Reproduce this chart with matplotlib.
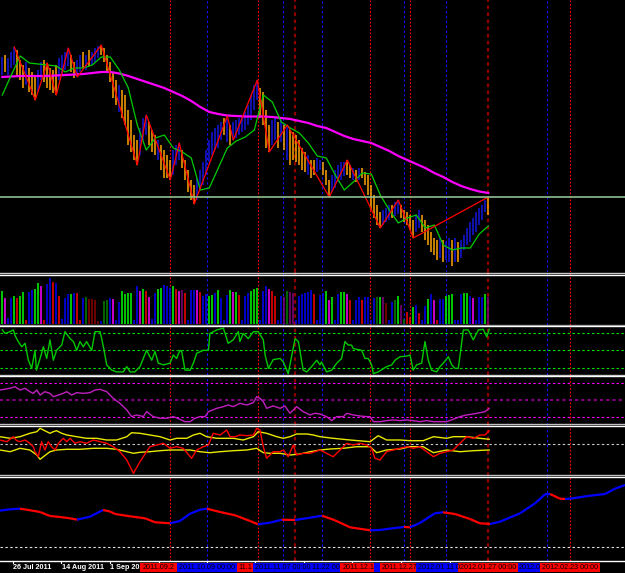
import numpy as np
import matplotlib.pyplot as plt
from matplotlib.collections import LineCollection
from matplotlib.patches import Rectangle

plt.rcParams["font.family"] = ["Liberation Sans", "DejaVu Sans"]

# ---------------------------------------------------
# Price bars (EURUSD daily, Jul 2011 - Jan 2012)
# ---------------------------------------------------
highs = [1.443, 1.445, 1.442, 1.448, 1.453, 1.450, 1.440, 1.435, 1.438, 1.432, 1.428, 1.425,
         1.430, 1.438, 1.440, 1.437, 1.432, 1.430, 1.435, 1.442, 1.445, 1.448, 1.452,
         1.445, 1.438, 1.440, 1.445, 1.448, 1.445, 1.450, 1.448, 1.452, 1.454, 1.455,
         1.452, 1.445, 1.438, 1.428, 1.420, 1.415, 1.410, 1.405, 1.390, 1.380, 1.365, 1.360,
         1.372, 1.382, 1.385, 1.378, 1.370, 1.365, 1.360, 1.355, 1.350, 1.345, 1.340,
         1.350, 1.355, 1.357, 1.350, 1.340, 1.330, 1.320, 1.315,
         1.322, 1.330, 1.338, 1.350, 1.360, 1.368, 1.372, 1.375, 1.378, 1.382, 1.384,
         1.375, 1.378, 1.380, 1.382, 1.385, 1.388, 1.395, 1.405, 1.415, 1.420,
         1.412, 1.408, 1.390, 1.375, 1.380, 1.382, 1.378, 1.380, 1.375, 1.375,
         1.370, 1.368, 1.365, 1.360, 1.352, 1.348, 1.345, 1.340, 1.340, 1.342, 1.340, 1.338,
         1.330, 1.320, 1.325, 1.330, 1.335, 1.338, 1.338, 1.340, 1.335, 1.332, 1.330, 1.332, 1.332, 1.328,
         1.325, 1.315, 1.305, 1.295, 1.288, 1.290, 1.292, 1.295, 1.295, 1.298, 1.300,
         1.295, 1.290, 1.288, 1.285, 1.280, 1.285, 1.290, 1.285,
         1.280, 1.275, 1.268, 1.262, 1.260, 1.262, 1.260, 1.258, 1.262, 1.260, 1.262, 1.258, 1.260,
         1.265, 1.272, 1.278, 1.282, 1.288, 1.292, 1.295, 1.300, 1.303]
lows = [1.425, 1.428, 1.425, 1.432, 1.435, 1.425, 1.420, 1.412, 1.415, 1.408, 1.405, 1.400,
        1.408, 1.420, 1.418, 1.412, 1.410, 1.407, 1.405, 1.420, 1.425, 1.430, 1.434,
        1.428, 1.422, 1.423, 1.428, 1.432, 1.430, 1.434, 1.435, 1.438, 1.442, 1.445,
        1.438, 1.428, 1.418, 1.402, 1.395, 1.388, 1.382, 1.375, 1.355, 1.348, 1.340, 1.335,
        1.345, 1.360, 1.365, 1.355, 1.348, 1.345, 1.340, 1.330, 1.322, 1.322, 1.320,
        1.325, 1.335, 1.340, 1.332, 1.320, 1.308, 1.300, 1.296,
        1.300, 1.310, 1.315, 1.325, 1.338, 1.345, 1.350, 1.352, 1.360, 1.365, 1.358,
        1.355, 1.360, 1.362, 1.365, 1.368, 1.370, 1.375, 1.380, 1.390, 1.400,
        1.382, 1.375, 1.352, 1.348, 1.355, 1.360, 1.352, 1.358, 1.350, 1.340,
        1.335, 1.340, 1.338, 1.335, 1.330, 1.328, 1.325, 1.322, 1.325, 1.328, 1.330, 1.325,
        1.315, 1.303, 1.308, 1.312, 1.318, 1.320, 1.324, 1.325, 1.322, 1.320, 1.318, 1.320, 1.322, 1.315,
        1.305, 1.290, 1.282, 1.275, 1.272, 1.275, 1.278, 1.280, 1.282, 1.284, 1.286,
        1.282, 1.278, 1.275, 1.270, 1.262, 1.268, 1.272, 1.268,
        1.260, 1.255, 1.248, 1.245, 1.240, 1.242, 1.238, 1.240, 1.238, 1.234, 1.238, 1.238, 1.242,
        1.250, 1.255, 1.258, 1.265, 1.268, 1.275, 1.280, 1.288, 1.285]
# u = bull bar, d = bear bar
bar_dir = ("uduuuddduddd" "uuddddduuuu" "dduududuuud" "dddddudddddd" "uuudddudddd"
           "uuuddddd" "uuuuuuuuudu" "duuuuuuuuu" "dddduududu" "ddddddudduud"
           "dduuuuuddududd" "ddddduuuduu" "ddddduud" "ddddduduududu" "uuuuuuuud")

# moving averages, one value every 3 bars
ma_fast = [1.405, 1.425, 1.444, 1.437, 1.436, 1.435, 1.434, 1.428, 1.432, 1.432,
           1.435, 1.443, 1.443, 1.430, 1.412, 1.375, 1.350, 1.362, 1.365, 1.352,
           1.348, 1.342, 1.310, 1.312, 1.332, 1.352, 1.359, 1.363, 1.370, 1.405,
           1.398, 1.378, 1.372, 1.367, 1.357, 1.344, 1.342, 1.325, 1.310, 1.318,
           1.327, 1.326, 1.305, 1.290, 1.277, 1.282, 1.285, 1.272, 1.275, 1.255,
           1.250, 1.252, 1.252, 1.266, 1.274]
ma_slow = [1.4230, 1.4235, 1.4240, 1.4240, 1.4240, 1.4240, 1.4245, 1.4250, 1.4255, 1.4260,
           1.4270, 1.4280, 1.4280, 1.4265, 1.4240, 1.4210, 1.4180, 1.4150, 1.4120, 1.4080,
           1.4040, 1.3990, 1.3930, 1.3880, 1.3860, 1.3845, 1.3840, 1.3835, 1.3835, 1.3835,
           1.3830, 1.3820, 1.3810, 1.3790, 1.3770, 1.3740, 1.3720, 1.3680, 1.3640, 1.3610,
           1.3590, 1.3570, 1.3530, 1.3490, 1.3440, 1.3400, 1.3360, 1.3320, 1.3270, 1.3230,
           1.3180, 1.3140, 1.3110, 1.3085, 1.3070]

# zigzag turning bars (H = high, L = low)
zz_bars = [4, 11, 15, 18, 22, 25, 33, 45, 48, 56, 59, 64, 75, 77, 85, 89, 95, 109, 115, 126, 132, 137, 162]
zz_kind = "HLHLHLHLHLHLHLHLHLHLHLH"
level_price = 1.303

# ---------------------------------------------------
# Volume
# ---------------------------------------------------
volume = [3300, 2600, 600, 2600, 2800, 2600, 2800, 3200, 400, 3200,
          3400, 3500, 4100, 3800, 400, 4000, 4600, 4200, 4100, 2800,
          500, 2600, 3000, 3000, 3100, 3100, 400, 2600, 2700, 2500,
          2500, 2400, 300, 300, 2300, 2400, 2600, 2500, 400, 2200,
          3300, 3000, 3100, 3100, 400, 3800, 3300, 3500, 3300, 2700,
          500, 3100, 3500, 3600, 3900, 3800, 3600, 3800, 3500, 3300,
          3400, 3100, 400, 3400, 3400, 3400, 3200, 2800, 3000, 2800,
          2900, 3100, 3400, 2600, 400, 2900, 3400, 3200, 3200, 2900,
          400, 2800, 3100, 3300, 3500, 3600, 400, 3300, 3800, 3500,
          3300, 2800, 400, 2800, 2700, 3300, 3200, 3100, 400, 2800,
          3000, 3100, 3200, 3400, 3000, 400, 2900, 3100, 3300, 2400,
          2700, 400, 3000, 3200, 3200, 3000, 2400, 400, 2400, 2700,
          2400, 2700, 2700, 400, 2600, 2700, 2700, 2700, 2100, 400,
          2200, 2400, 2800, 1900, 500, 1200, 700, 1700, 1900, 1100,
          400, 1800, 2500, 3000, 2400, 400, 2500, 2500, 2800, 2900,
          3000, 400, 400, 3000, 3100, 3100, 2800, 2600, 400, 2700,
          2700, 3000, 2700]
vol_class = ("gmbbgrggrb" "bggmrbbrbr" "bbbgbrrbGR" "RRRbGGbmbb" "ggggbbmgrm"
             "bbggbbbgrm" "prbbbmrbbg" "gbgbbbgmgr" "bbbgggbbbm" "rrbbpGppbb"
             "bbbbrbbbgm" "gbbggmrbbb" "rbbbbGgpRb" "bGgpGrrgbr" "bbgbmrbbgg"
             "gbbbggbmbb" "bgp")

# ---------------------------------------------------
# Oscillators (bar index, value)
# ---------------------------------------------------
stoch_t = [0, 0.9, 2.6, 3.7, 4.2, 5.3, 6.5, 7.6, 8.7, 9.8,
           10.9, 11.4, 12.6, 13.7, 14.8, 15.9, 17.0, 18.1, 19.8, 20.9,
           22.6, 23.7, 24.8, 25.9, 27.0, 28.1, 29.8, 30.9, 32.6, 33.7,
           34.8, 36.5, 38.1, 40.3, 41.5, 42.6, 44.2, 45.9, 47.0, 48.1,
           49.8, 50.9, 52.0, 53.7, 55.9, 57.0, 58.1, 59.2, 59.8, 60.9,
           62.6, 63.7, 64.8, 67.0, 68.7, 69.2, 71.5, 73.7, 75.3, 77.0,
           78.7, 79.2, 80.3, 82.0, 83.7, 85.3, 87.0, 87.6, 88.7, 90.3,
           92.6, 93.7, 95.3, 97.6, 98.7, 100.3, 101.5, 103.1, 104.8, 105.9,
           106.4, 108.1, 109.8, 111.5, 113.1, 114.2, 115.3, 116.4, 117.0, 119.8,
           120.9, 122.0, 123.1, 123.7, 125.3, 128.1, 129.8, 130.9, 132.6, 134.8,
           135.9, 137.0, 138.1, 139.8, 140.9, 142.0, 143.1, 144.8, 145.9, 147.0,
           148.7, 149.8, 150.9, 152.0, 153.7, 155.3, 157.0, 158.7, 160.3, 161.5,
           162.3]
stoch_v = [85, 79, 82, 85, 76, 65, 56, 62, 33, 19,
           50, 16, 36, 56, 36, 68, 33, 50, 59, 82,
           70, 65, 50, 65, 56, 65, 50, 82, 82, 56,
           25, 16, 13, 13, 22, 13, 13, 22, 36, 50,
           33, 48, 28, 25, 28, 42, 36, 50, 48, 16,
           16, 28, 45, 50, 50, 79, 85, 88, 62, 68,
           82, 65, 79, 70, 82, 82, 68, 42, 19, 34,
           36, 30, 10, 70, 65, 16, 13, 22, 33, 25,
           30, 13, 16, 28, 36, 65, 59, 59, 53, 50,
           36, 36, 25, 10, 13, 22, 25, 33, 39, 40,
           42, 16, 25, 28, 65, 33, 16, 13, 22, 28,
           39, 25, 19, 19, 85, 85, 68, 85, 86, 73,
           86]

rsi_t = [-0.8, 2.6, 4.2, 5.9, 7.6, 9.2, 10.3, 11.5, 12.6, 14.2,
         15.9, 17.0, 18.7, 20.3, 21.5, 23.1, 24.8, 27.0, 29.2, 30.9,
         32.6, 34.8, 37.0, 39.2, 41.5, 43.1, 44.8, 47.0, 48.1, 50.3,
         52.6, 54.8, 57.0, 59.2, 60.9, 62.6, 64.2, 65.9, 67.6, 68.7,
         71.5, 73.7, 75.3, 77.0, 79.2, 81.5, 83.7, 84.8, 85.9, 87.0,
         88.1, 90.3, 92.6, 94.2, 95.9, 98.1, 100.3, 102.6, 104.2, 105.9,
         108.1, 109.8, 111.5, 113.7, 114.8, 117.0, 119.2, 121.5, 122.6, 123.7,
         125.9, 128.1, 130.3, 132.6, 134.8, 137.0, 139.2, 141.5, 143.7, 145.9,
         148.1, 150.3, 152.6, 154.8, 157.0, 159.2, 160.9, 162.3]
rsi_v = [61.4, 63.4, 65.2, 61.4, 63.4, 59.5, 57.6, 61.4, 55.7, 59.5,
         57.6, 53.8, 55.7, 57.6, 59.5, 55.7, 58.4, 57.6, 58.4, 61.4,
         62.2, 59.5, 51.9, 46.2, 38.6, 31.0, 32.9, 31.0, 36.7, 31.0,
         29.1, 29.1, 31.0, 27.9, 25.2, 25.2, 29.1, 31.0, 31.0, 36.7,
         40.5, 42.4, 44.3, 42.4, 46.2, 44.3, 47.0, 53.8, 51.9, 48.1,
         40.5, 43.2, 40.5, 43.2, 34.8, 42.4, 36.7, 32.9, 34.8, 34.0,
         31.0, 26.4, 31.0, 31.0, 34.8, 32.9, 31.7, 31.0, 31.0, 25.2,
         25.2, 26.4, 27.2, 26.4, 27.2, 26.4, 25.2, 26.4, 25.2, 25.2,
         25.2, 27.9, 31.0, 32.9, 34.0, 35.5, 36.7, 40.5]

band_up_t = [-0.8, 2.6, 5.9, 9.2, 11.5, 12.6, 13.7, 15.9, 17.0, 18.1,
             19.8, 21.5, 24.8, 28.1, 31.4, 34.8, 38.1, 41.5, 43.1, 45.9,
             49.2, 52.6, 55.9, 58.1, 61.5, 63.7, 65.9, 68.1, 71.5, 77.0,
             80.3, 83.7, 85.3, 88.1, 91.5, 93.7, 95.9, 98.1, 101.5, 103.7,
             105.9, 110.3, 115.9, 122.6, 125.3, 128.1, 132.6, 135.9, 140.3, 143.7,
             148.1, 150.3, 154.8, 159.2, 162.3]
band_up_v = [7.3, 5.7, 7.3, 10.7, 12.3, 15.7, 14.0, 10.7, 12.3, 13.3,
             10.7, 9.0, 7.3, 5.7, 5.7, 4.0, 4.0, 7.3, 11.3, 10.7,
             9.0, 7.3, 4.0, 5.7, 5.7, 9.0, 10.7, 7.3, 5.7, 5.7,
             4.0, 7.3, 12.3, 10.7, 7.3, 5.7, 7.3, 10.0, 10.0, 9.0,
             7.3, 5.7, 4.0, 2.3, 8.3, 4.0, 4.0, 3.3, 3.3, 7.3,
             5.7, 7.3, 7.3, 5.7, 4.7]
band_lo_t = [-0.8, 2.6, 5.9, 9.2, 11.5, 12.6, 13.7, 15.9, 18.1, 21.5,
             25.9, 30.3, 34.8, 38.1, 41.5, 43.7, 45.9, 49.2, 52.6, 55.9,
             59.2, 62.6, 65.9, 69.2, 72.6, 77.0, 81.5, 84.8, 87.0, 89.2,
             92.6, 95.9, 99.2, 102.6, 105.9, 109.2, 113.7, 118.1, 122.6, 124.8,
             128.1, 132.6, 135.9, 140.3, 143.7, 148.1, 152.6, 157.0, 162.3]
band_lo_v = [-6.0, -7.7, -4.3, -6.0, -11.0, -15.3, -12.7, -7.7, -6.0, -5.3,
             -5.3, -4.3, -4.3, -5.3, -7.7, -9.3, -8.3, -7.7, -6.7, -6.0,
             -6.0, -6.0, -7.7, -8.7, -7.7, -6.7, -6.0, -4.3, -8.7, -9.3,
             -9.3, -11.0, -10.0, -7.7, -6.0, -5.0, -4.3, -2.7, -2.7, -8.7,
             -6.0, -5.0, -2.7, -2.7, -8.7, -6.0, -7.7, -6.7, -6.0]
osc_t = [-0.8, 1.5, 3.7, 4.8, 5.9, 7.6, 9.2, 10.3, 10.9, 12.0,
         13.1, 14.2, 15.3, 16.4, 17.6, 18.7, 20.3, 21.5, 22.6, 24.2,
         25.9, 28.1, 30.3, 32.6, 34.8, 37.0, 39.2, 41.5, 43.7, 45.9,
         48.1, 49.2, 51.5, 53.7, 55.9, 58.1, 60.3, 63.1, 64.8, 67.0,
         68.7, 70.3, 72.6, 74.8, 75.9, 77.6, 79.2, 81.5, 83.7, 84.8,
         85.9, 87.0, 88.1, 90.3, 92.6, 93.7, 95.3, 97.0, 98.1, 100.3,
         102.6, 104.2, 105.9, 109.2, 110.3, 112.6, 114.8, 117.0, 119.2, 121.5,
         123.1, 124.2, 125.9, 128.1, 130.3, 132.6, 134.8, 137.0, 139.2, 141.5,
         143.7, 145.9, 148.1, 150.3, 152.6, 154.8, 157.0, 159.2, 160.9, 162.3]
osc_v = [4.0, 2.3, 7.3, 3.3, 2.3, 4.0, 0.7, -2.7, -7.7, -12.7,
         2.3, -6.0, 2.3, -2.7, -6.0, 0.7, 5.7, 2.3, 5.7, 0.7,
         2.3, 0.7, 4.0, 2.3, 0.7, -2.7, -7.7, -16.0, -29.3, -17.7,
         -7.7, -2.7, -1.0, 0.7, -4.3, -2.7, -4.3, -14.3, -6.0, -2.7,
         -1.0, 10.7, 9.0, 14.0, 7.3, 7.3, 9.0, 8.3, 9.0, 15.7,
         14.0, -2.7, -14.3, -7.7, -7.7, -6.0, -12.7, -1.0, -11.0, -9.3,
         -9.3, -7.7, -6.0, -11.0, -12.7, -6.0, 0.7, -1.0, 0.7, -1.0,
         -4.3, -14.3, -16.0, -7.7, -6.0, -4.3, -2.7, -4.3, -2.7, -7.7,
         -12.7, -9.3, -7.7, -6.0, 0.7, 7.3, 5.7, 9.0, 9.0, 13.3]

# shifted trend line, runs past the last bar
trend_t = [-1, 2.6, 5.9, 8.2, 12.6, 15.9, 19.2, 22.6, 24.9, 29.2,
           33.6, 35.9, 37.6, 42.6, 47.6, 50.9, 55.9, 59.2, 62.6, 65.9,
           68.2, 72.6, 77.6, 82.6, 85.2, 89.2, 93.2, 97.6, 102.6, 106.6,
           110.9, 115.9, 122.6, 125.9, 130.9, 133.9, 135.9, 139.2, 144.2, 146.9,
           150.9, 155.9, 159.2, 162.6, 165.9, 172.6, 177.6, 180.9, 182.6, 185.9,
           187.6, 189.2, 195.9, 200.9, 204.2, 207.6]
trend_v = [36.3, 37.7, 38.3, 37.3, 35.0, 31.0, 30.0, 28.7, 27.3, 30.3,
           37.0, 35.5, 33.0, 30.7, 28.7, 24.7, 23.7, 26.0, 33.3, 37.3,
           38.3, 35.0, 31.7, 26.0, 22.7, 24.3, 27.3, 27.0, 29.3, 31.3,
           26.7, 19.7, 16.7, 17.0, 19.0, 20.0, 19.7, 24.0, 33.7, 34.7,
           33.0, 28.0, 23.7, 23.0, 25.3, 33.7, 43.7, 52.7, 53.0, 48.3,
           48.0, 48.3, 51.3, 53.0, 58.3, 62.0]

# ---------------------------------------------------
# Vertical time lines and time axis
# ---------------------------------------------------
vline_bar = [56, 68.3, 85.3, 93.5, 97.5, 106.7, 122.7, 134, 136, 148, 162, 181.5, 189.3]
vline_kind = "rbrbdbrbrbdbr"
vline_text = ["2011.09.29 00:00", "2011.10.09 00:00", "2011.10.28 00:00", "2011.11.07 00:00", None,
              "2011.11.22 00:00", "2011.12.11 00:00", "2011.12.24 00:00", "2011.12.27 00:00",
              "2012.01.11 00:00", "2012.01.27 00:00", "2012.02.18 00:00", "2012.02.23 00:00"]
# part of each label left uncovered by the labels stacked over it
vline_shown = ["2011.09.2", "2011.10.09 00:00", "11.1", "2011.11.07 00:00", None,
               "11.22 00", "2011.12.1", None, "2011.12.27",
               "2012.01.11 0", "2012.01.27 00:00", "2012.0", "2012.02.23 00:00"]
label_order = [0, 2, 1, 5, 3, 6, 7, 8, 9, 11, 10, 12]

tick_bar = [3.6, 19.7, 35.9, 52.1, 68.2, 84.4, 100.6, 116.7, 132.9, 149.1]
tick_text = ["26 Jul 2011", "14 Aug 2011", "1 Sep 201"]


# ---------------------------------------------------
# Figure layout (pixel rows of the terminal window)
# ---------------------------------------------------
W, H = 625, 573
fig = plt.figure(figsize=(W / 100, H / 100), dpi=100, facecolor="black")
XLIM = (-0.767, 207.57)
PX_PER_BAR = 3.0


def panel(top, bottom, ylim):
    ax = fig.add_axes([0, 1 - bottom / H, 1, (bottom - top) / H])
    ax.set_xlim(*XLIM)
    ax.set_ylim(*ylim)
    ax.axis("off")
    return ax


ax_price = panel(0, 272, (1.228, 1.500))
ax_vol = panel(272, 325, (-100, 5200))
ax_stoch = panel(325, 375, (7.66, 93.4))
ax_rsi = panel(375, 425, (21.4, 78.6))
ax_osc = panel(425, 476, (-32, 19))
ax_trend = panel(476, 561, (-14, 71))
ax_time = panel(561, 573, (0, 1))

line_style = {
    "r": dict(color="#FF0000", lw=0.8, dashes=(1.6, 1.6)),
    "b": dict(color="#1010FF", lw=0.8, dashes=(2.2, 2.2)),
    "d": dict(color="#900000", lw=1.6, dashes=(1.6, 1.6)),
}
for ax in [ax_price, ax_vol, ax_stoch, ax_rsi, ax_osc, ax_trend]:
    for t, k in zip(vline_bar, vline_kind):
        ax.axvline(t, zorder=1, **line_style[k])

# price panel
bars = np.arange(len(highs))
bar_colors = ["#1515E0" if d == "u" else "#FFA500" for d in bar_dir]
ax_price.vlines(bars, lows, highs, colors=bar_colors, lw=1.1, zorder=2)
ma_bars = np.arange(0, len(highs), 3)
ax_price.plot(ma_bars, ma_slow, color="#FF00FF", lw=1.6, zorder=3)
ax_price.plot(ma_bars, ma_fast, color="#00CC00", lw=0.9, zorder=4)
zz_price = [highs[b] if k == "H" else lows[b] for b, k in zip(zz_bars, zz_kind)]
ax_price.plot(zz_bars, zz_price, color="#FF0000", lw=0.9, zorder=5)
ax_price.axhline(level_price, color="#8FC08F", lw=1.2, zorder=6)

# volume panel
vol_palette = {"g": "#00FF00", "G": "#008000", "b": "#0000FF", "r": "#FF0000",
               "R": "#900000", "m": "#FF00FF", "p": "#800080"}
ax_vol.vlines(bars, 0, volume, colors=[vol_palette[c] for c in vol_class], lw=1.1, zorder=2)

# stochastic panel
for lev in (20, 50, 80):
    ax_stoch.axhline(lev, color="#00E000", lw=0.8, dashes=(2.2, 2.2), zorder=2)
ax_stoch.plot(stoch_t, stoch_v, color="#00C800", lw=1.0, zorder=3)

# rsi panel
for lev in (30, 70):
    ax_rsi.axhline(lev, color="#FF00FF", lw=0.8, dashes=(2.2, 2.2), zorder=2)
ax_rsi.axhline(50, color="#800080", lw=1.5, dashes=(1.5, 1.5), zorder=2)
ax_rsi.plot(rsi_t, rsi_v, color="#C020C0", lw=1.0, zorder=3)

# band oscillator panel
ax_osc.axhline(0, color="#C8C8C8", lw=0.8, dashes=(2.2, 2.2), zorder=2)
ax_osc.plot(band_up_t, band_up_v, color="#E8E800", lw=1.0, zorder=3)
ax_osc.plot(band_lo_t, band_lo_v, color="#E8E800", lw=1.0, zorder=3)
ax_osc.plot(osc_t, osc_v, color="#FF0000", lw=1.0, zorder=4)

# trend panel
ax_trend.axhline(0, color="#E0E0E0", lw=0.8, dashes=(2.2, 2.2), zorder=2)
pts = np.column_stack([trend_t, trend_v])
segs = np.stack([pts[:-1], pts[1:]], axis=1)
seg_col = ["#0000FF" if b >= a else "#FF0000" for a, b in zip(trend_v[:-1], trend_v[1:])]
ax_trend.add_collection(LineCollection(segs, colors=seg_col, lw=1.6, zorder=3))

# time axis: ticks, date labels, then the vertical-line labels on top
for t in tick_bar:
    ax_time.plot([t, t], [0.8, 1.0], color="white", lw=0.8, zorder=1)
for t, txt in zip(tick_bar, tick_text):
    ax_time.text(t + 0.1, 0.42, txt, color="white", fontsize=5.2, fontweight="bold",
                 ha="left", va="center", zorder=1)

FS = 5.2
EM_PX = FS * 100 / 72


def text_bars(s):
    # width of a label in bars (Liberation Sans: digits 0.556 em, punctuation 0.278 em)
    return sum(0.556 if ch.isdigit() else 0.278 for ch in s) * EM_PX / PX_PER_BAR


for z, i in enumerate(label_order):
    t = vline_bar[i]
    box_col = "#0000FF" if vline_kind[i] == "b" else "#FF0000"
    ax_time.add_patch(Rectangle((t - 10, 0.06), 20, 0.8, facecolor=box_col,
                                edgecolor="none", zorder=10 + z))
for i, shown in enumerate(vline_shown):
    if shown is None:
        continue
    full = vline_text[i]
    x0 = vline_bar[i] - text_bars(full) / 2 + text_bars(full[:full.find(shown)])
    ax_time.text(x0, 0.44, shown, color="black", fontsize=FS,
                 ha="left", va="center", zorder=40)

# window separators
ov = fig.add_axes([0, 0, 1, 1], zorder=20)
ov.set_xlim(0, W)
ov.set_ylim(H, 0)
ov.axis("off")
for y, c in [(272.5, "#C8C8C8"), (274.5, "#FFFFFF"), (324.5, "#909090"), (326.2, "#FFFFFF"),
             (374.5, "#C0C0C0"), (376.0, "#FFFFFF"), (424.0, "#C0C0C0"), (425.7, "#FFFFFF"),
             (475.3, "#C0C0C0"), (477.0, "#FFFFFF"), (561.0, "#FFFFFF")]:
    ov.axhline(y, color=c, lw=1.0)

fig.savefig("out.png", dpi=100, facecolor="black")
